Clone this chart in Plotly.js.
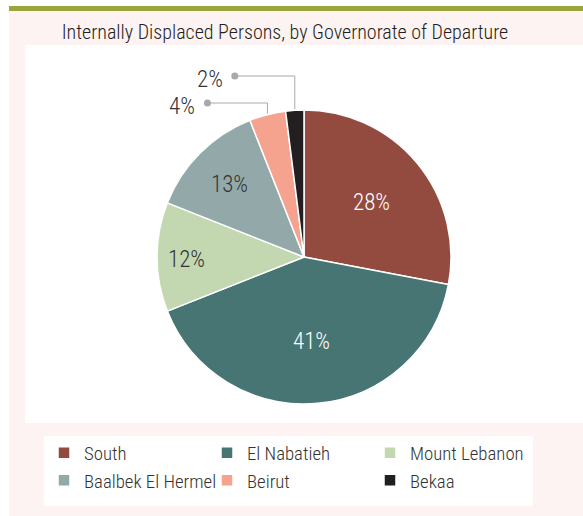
<!DOCTYPE html>
<html>
<head>
<meta charset="utf-8">
<script src="https://cdn.plot.ly/plotly-3.0.1.min.js"></script>
<style>
  html, body { margin: 0; padding: 0; background: #ffffff; }
  #chart { width: 583px; height: 516px; }
</style>
</head>
<body>
<div id="chart"></div>
<script>
// ---- data ----
const categories = ["South", "El Nabatieh", "Mount Lebanon", "Baalbek El Hermel", "Beirut", "Bekaa"];
const sharePct   = [28, 41, 12, 13, 4, 2];
const sliceColors = ["#934b40", "#467574", "#c3d8b0", "#93a9a9", "#f5a38e", "#231f20"];
const labelColors = ["#ffffff", "#ffffff", "#333333", "#333333", "#333333", "#333333"];
const chartTitle = "Internally Displaced Persons, by Governorate of Departure";

// ---- layout geometry / style (px) ----
const W = 583, H = 516;
const FONT = '"Roboto Condensed", "Liberation Sans Narrow", "Arial Narrow", Roboto, sans-serif';
const pie = { cx: 304, cy: 257, r: 147 };
const SMALL = 10;                              // slices below this get an outside leader label
const labelRadius = [0.6, 0.565, 0.8, 0.72];   // radial position of inside labels (fraction of r)
const leaderLevels = [103, 76];                // y of elbow for small slices (in drawing order)
const leaderLen = 60;

const px = x => x / W;
const py = y => 1 - y / H;

const total = sharePct.reduce((a, b) => a + b, 0);

const trace = {
  type: "pie",
  labels: categories,
  values: sharePct,
  sort: false,
  direction: "clockwise",
  rotation: 0,
  marker: { colors: sliceColors, line: { color: "#ffffff", width: 1.5 } },
  textinfo: "none",
  hoverinfo: "label+percent",
  domain: { x: [px(pie.cx - pie.r), px(pie.cx + pie.r)], y: [py(pie.cy + pie.r), py(pie.cy - pie.r)] }
};

// ---- background panels ----
const shapes = [
  { type: "rect", xref: "paper", yref: "paper", x0: px(9), x1: 1, y0: 0, y1: py(11), fillcolor: "#fdf3f2", line: { width: 0 }, layer: "below" },
  { type: "rect", xref: "paper", yref: "paper", x0: px(9), x1: 1, y0: py(11), y1: py(6), fillcolor: "#9aa63a", line: { width: 0 }, layer: "below" },
  { type: "rect", xref: "paper", yref: "paper", x0: px(25), x1: 1, y0: py(423), y1: py(45), fillcolor: "#ffffff", line: { width: 0 }, layer: "below" },
  { type: "rect", xref: "paper", yref: "paper", x0: px(44), x1: px(533), y0: py(506), y1: py(436), fillcolor: "#ffffff", line: { width: 0 }, layer: "below" }
];

// ---- slice labels (inside) and leader lines (small slices), computed from the data ----
const annotations = [];
let cum = 0, k = 0, j = 0;
sharePct.forEach((v, i) => {
  const mid = (cum + v / 2) / total * 2 * Math.PI;
  cum += v;
  const pct = Math.round(v / total * 100) + "%";
  if (v >= SMALL) {
    const rr = pie.r * labelRadius[j++];
    annotations.push({ xref: "paper", yref: "paper",
      x: px(pie.cx + rr * Math.sin(mid)), y: py(pie.cy - rr * Math.cos(mid) + 2),
      xanchor: "center", yanchor: "middle", showarrow: false, text: pct,
      font: { family: FONT, size: 23, weight: 300, color: labelColors[i] } });
    return;
  }
  const ex = pie.cx + pie.r * Math.sin(mid);
  const ey = pie.cy - pie.r * Math.cos(mid);
  const ly = leaderLevels[k++];
  const dx = ex - leaderLen;
  shapes.push({ type: "path", xref: "paper", yref: "paper",
    path: `M ${px(ex)} ${py(ey - 1)} L ${px(ex)} ${py(ly)} L ${px(dx)} ${py(ly)}`,
    line: { color: "#a7a9ac", width: 1 } });
  shapes.push({ type: "circle", xref: "paper", yref: "paper",
    x0: px(dx - 3.5), x1: px(dx + 3.5), y0: py(ly + 3.5), y1: py(ly - 3.5),
    fillcolor: "#a7a9ac", line: { width: 0 } });
  annotations.push({ xref: "paper", yref: "paper", x: px(dx - 10), y: py(ly + 3),
    xanchor: "right", yanchor: "middle", showarrow: false, text: pct,
    font: { family: FONT, size: 23, weight: 300, color: labelColors[i] } });
});

const layout = {
  width: W, height: H,
  margin: { l: 0, r: 0, t: 0, b: 0 },
  paper_bgcolor: "#ffffff",
  title: { text: chartTitle, x: px(285), xanchor: "center", xref: "paper",
           y: py(32), yanchor: "middle", yref: "container",
           font: { family: FONT, size: 20, weight: 300, color: "#231f20" } },
  showlegend: true,
  legend: { orientation: "h", x: px(44), xanchor: "left", y: py(434), yanchor: "top",
            bgcolor: "rgba(0,0,0,0)", entrywidth: 118, entrywidthmode: "pixels",
            traceorder: "normal",
            font: { family: FONT, size: 18.8, weight: 300, color: "#333333" } },
  shapes: shapes,
  annotations: annotations
};

Plotly.newPlot("chart", [trace], layout, { displayModeBar: false, staticPlot: true });
</script>
</body>
</html>
